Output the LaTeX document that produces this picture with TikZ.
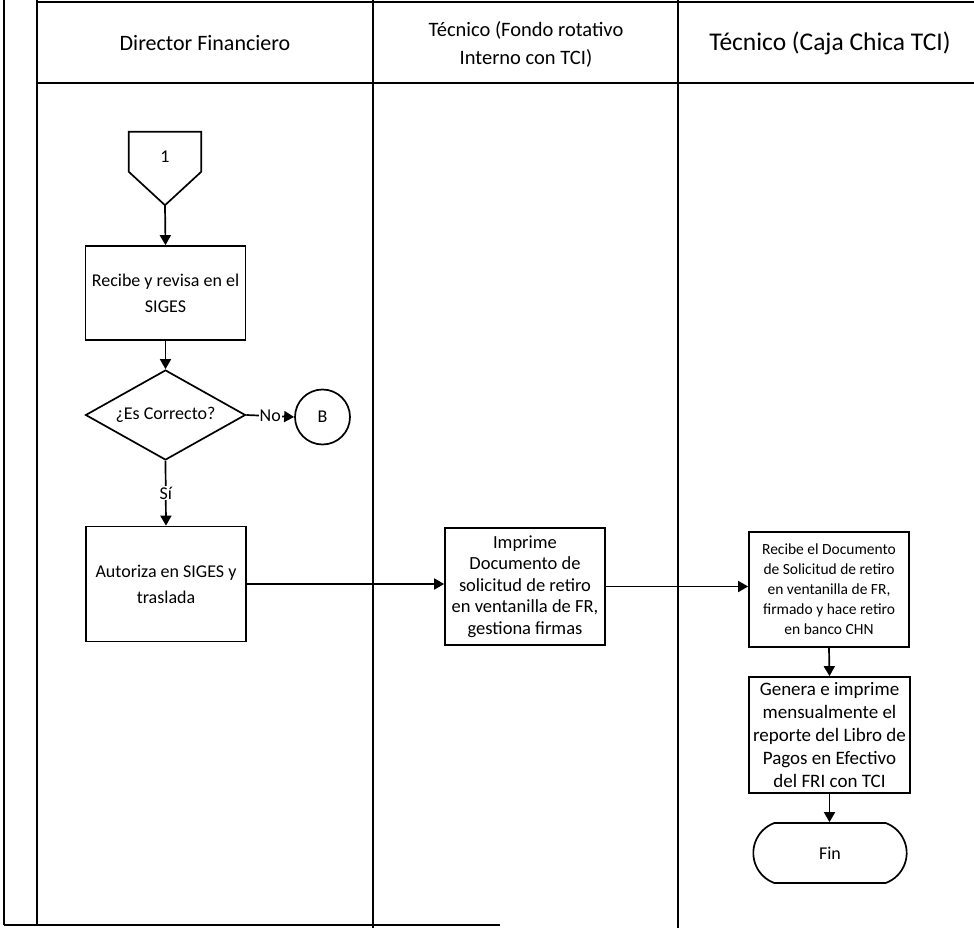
\documentclass[tikz,border=0pt]{standalone}
\usepackage{fontspec}
\setmainfont{Carlito}
\usetikzlibrary{arrows.meta,shapes.geometric,shapes.misc}
\begin{document}
\begin{tikzpicture}[x=1pt,y=-1pt,
  lane/.style={line width=1.6pt},
  box/.style={draw,line width=1.7pt,rectangle,align=center,inner sep=2pt},
  flow/.style={line width=1.7pt,-{Triangle[length=10pt,width=11pt]}},
  body/.style={font=\fontsize{18}{26}\selectfont},
  small/.style={font=\fontsize{15.5}{20}\selectfont},
  mid/.style={font=\fontsize{18.5}{21.5}\selectfont},
  head/.style={align=center}]
\useasboundingbox (0,0) rectangle (974,928);

% swimlane frame
\draw[lane] (4,0) -- (4,925);
\draw[lane] (37,0) -- (37,925);
\draw[lane] (4,925) -- (500,925);
\draw[lane] (37,2) -- (974,2);
\draw[lane] (37,83) -- (974,83);
\draw[lane] (373,0) -- (373,928);
\draw[lane] (678,0) -- (678,928);

% lane headers
\node[head,font=\fontsize{22}{27}\selectfont] (h1) at (205,43) {Director Financiero};
\node[head,font=\fontsize{20.5}{28}\selectfont] (h2) at (526,44) {Técnico (Fondo rotativo\\Interno con TCI)};
\node[head,font=\fontsize{25.5}{28}\selectfont] (h3) at (830,43) {Técnico (Caja Chica TCI)};

% off-page connector 1
\node[minimum width=72pt,minimum height=73pt,inner sep=0pt] (c1) at (165,168.5) {};
\draw[line width=1.7pt] (c1.north west) -- (c1.north east) -- ([yshift=-40pt]c1.north east)
  -- (c1.south) -- ([yshift=-40pt]c1.north west) -- cycle;
\node[body] (c1t) at (165,157) {1};

% first lane steps
\node[box,body,minimum width=160pt,minimum height=94pt] (rec) at (165.5,293) {Recibe y revisa en el\\SIGES};
\node[draw,line width=1.7pt,diamond,aspect=1.78,minimum width=160pt,minimum height=90pt,inner sep=0pt,body] (dec) at (165.5,415) {¿Es Correcto?};
\node[draw,line width=1.7pt,circle,minimum size=55pt,inner sep=0pt,body] (B) at (322.5,417) {B};
\node[box,body,minimum width=160pt,minimum height=115pt] (aut) at (166,584) {Autoriza en SIGES y\\traslada};

% second lane
\node[box,mid,minimum width=160pt,minimum height=117pt] (imp) at (525,586.5) {Imprime\\Documento de\\solicitud de retiro\\en ventanilla de FR,\\gestiona firmas};

% third lane
\node[box,small,minimum width=160pt,minimum height=115pt] (rec2) at (829,589.5) {Recibe el Documento\\de Solicitud de retiro\\en ventanilla de FR,\\firmado y hace retiro\\en banco CHN};
\node[box,font=\fontsize{19}{23}\selectfont,minimum width=161pt,minimum height=116pt] (gen) at (829.5,735) {Genera e imprime\\mensualmente el\\reporte del Libro de\\Pagos en Efectivo\\del FRI con TCI};
\node[draw,line width=1.7pt,rounded rectangle,rounded rectangle arc length=140,minimum width=160pt,minimum height=60pt,body] (fin) at (830,853) {Fin};

% connectors
\draw[flow] (c1.south) -- (rec.north);
\draw[flow] (rec.south) -- (dec.north);
\draw[flow] (dec.east) -- node[fill=white,inner sep=1pt,body]{No} (B.west);
\draw[flow] (dec.south) -- node[fill=white,inner sep=1pt,body]{Sí} (aut.north);
\draw[flow] (aut.east) -- (aut.east -| imp.west);
\draw[flow] (imp.east) -- (imp.east -| rec2.west);
\draw[flow] (rec2.south) -- (gen.north);
\draw[flow] (gen.south) -- (gen.south |- fin.north);
\end{tikzpicture}
\end{document}
